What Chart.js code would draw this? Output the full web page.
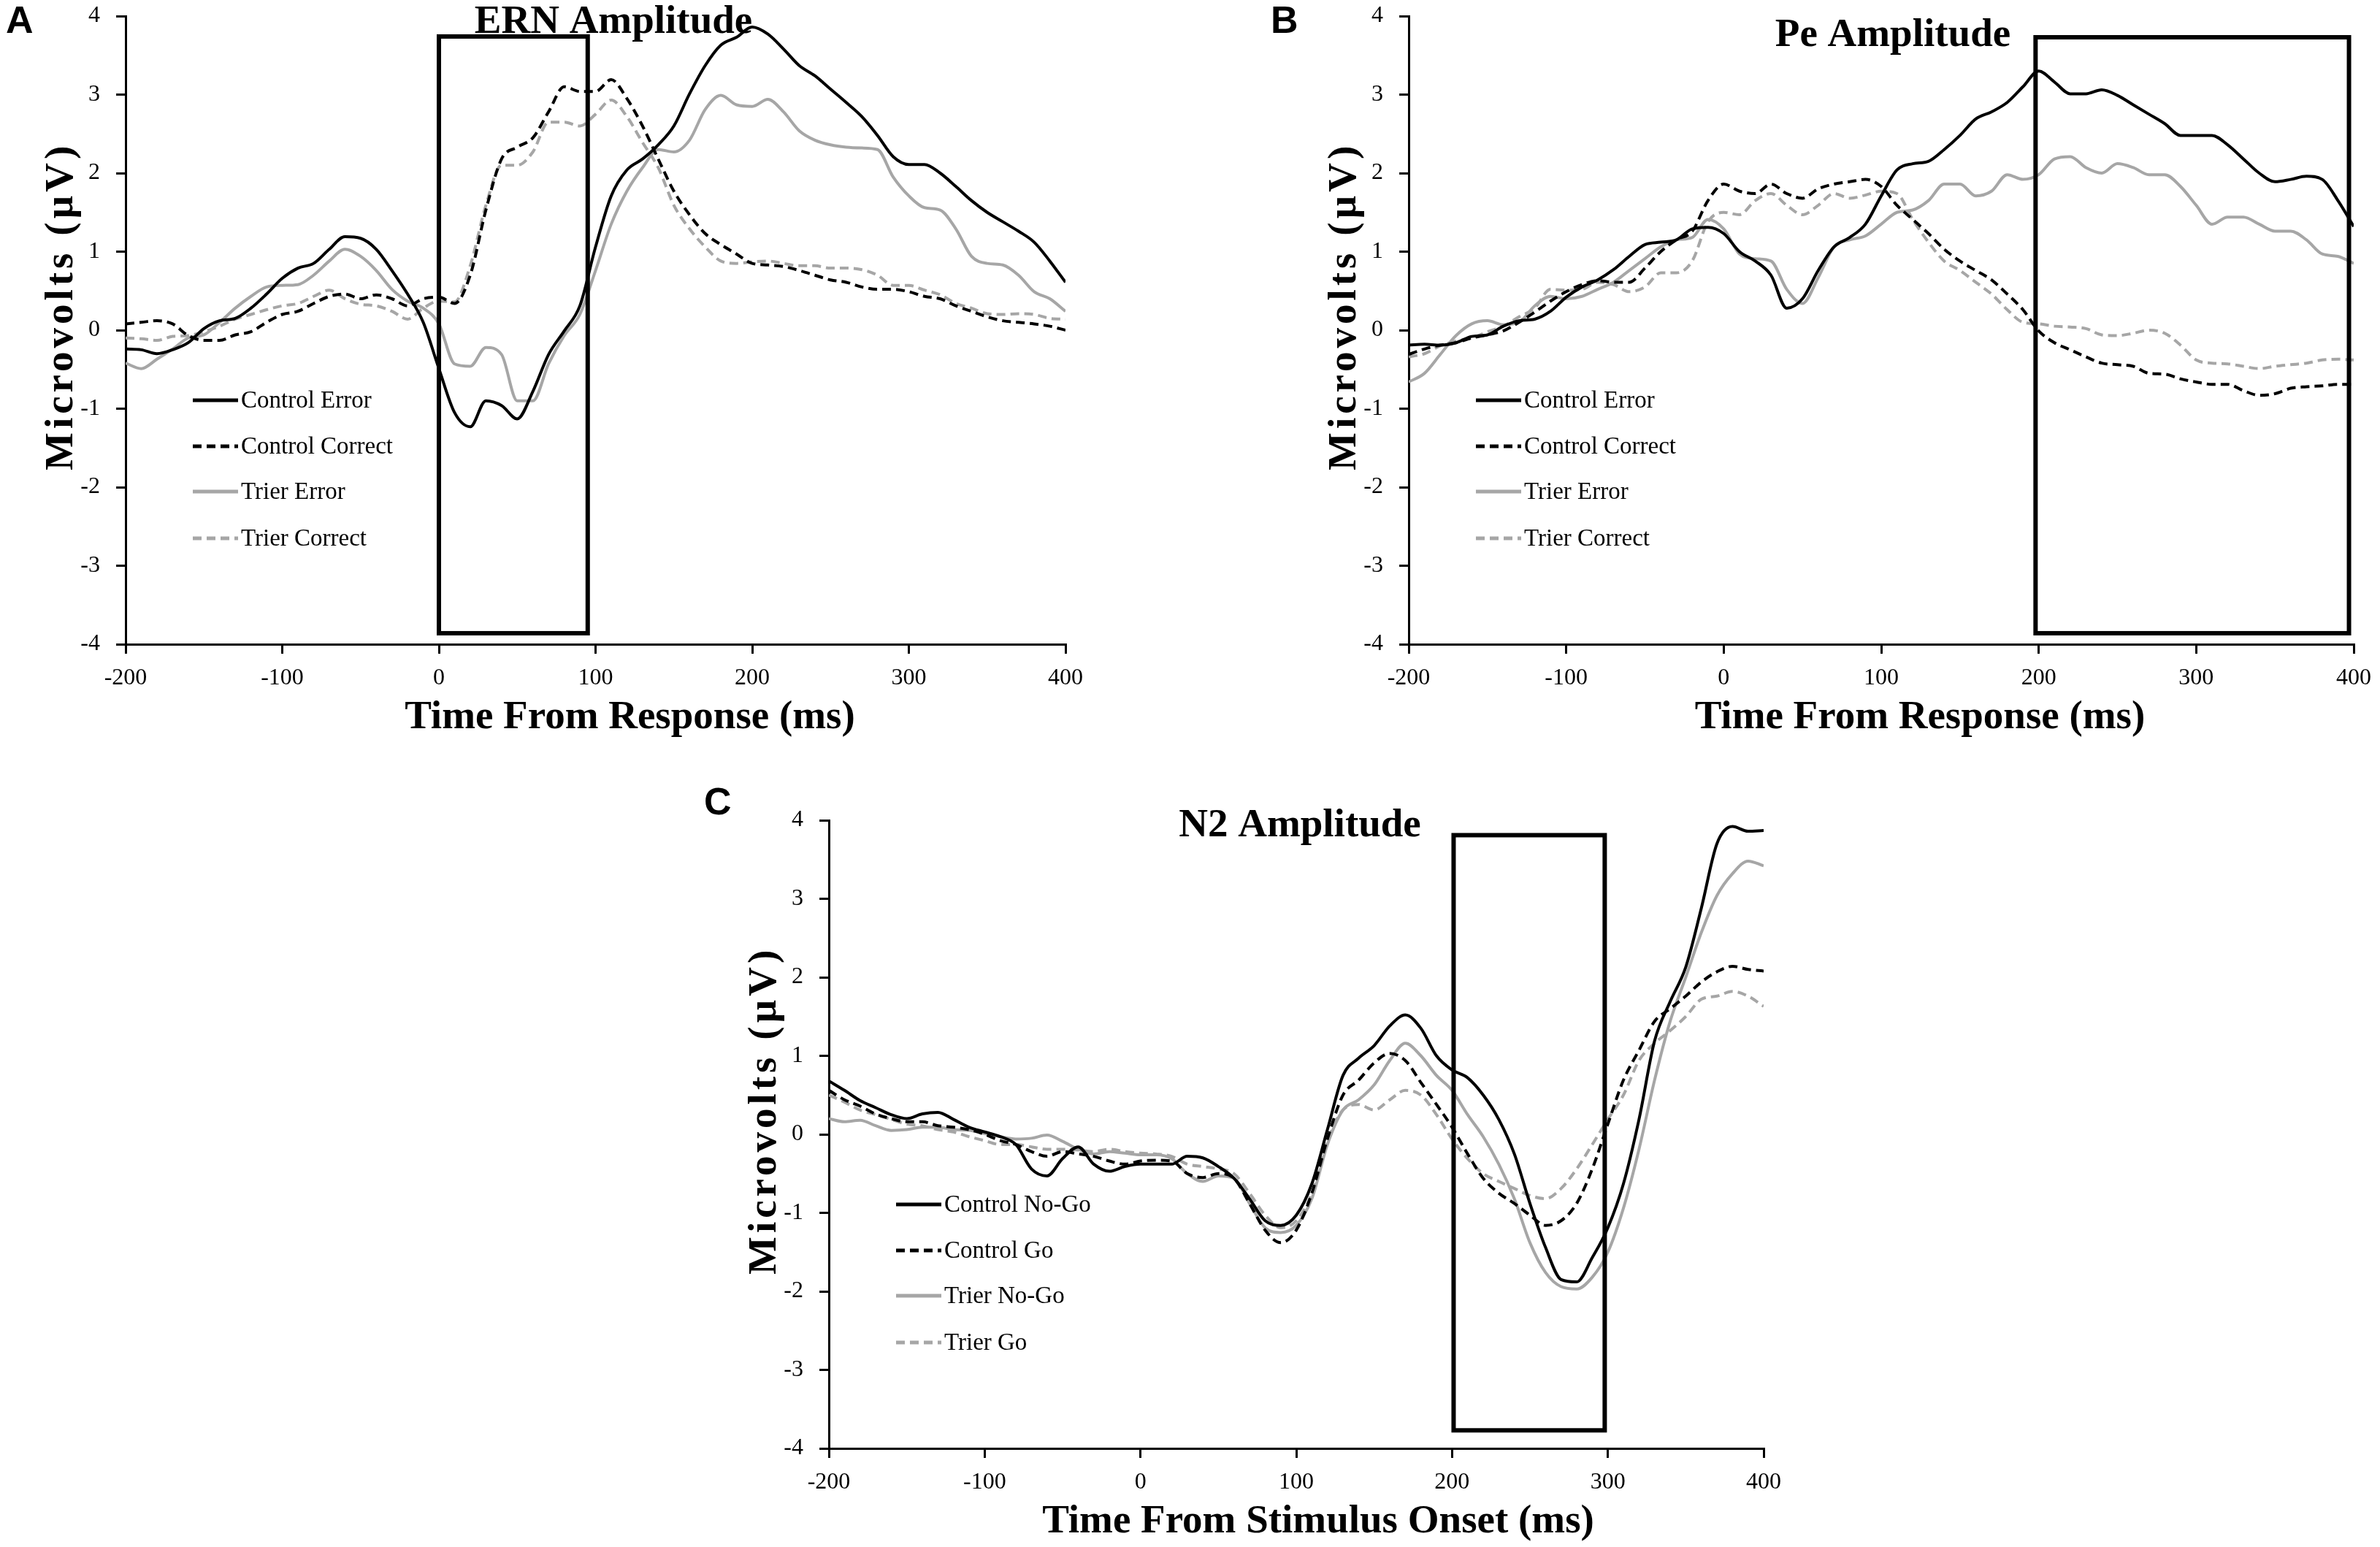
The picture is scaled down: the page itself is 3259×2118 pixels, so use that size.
<!DOCTYPE html>
<html>
<head>
<meta charset="utf-8">
<script src="https://cdn.jsdelivr.net/npm/chart.js@4.4.1/dist/chart.umd.min.js"></script>
<style>
  html, body { margin: 0; padding: 0; background: #fff; width: 3259px; height: 2118px; overflow: hidden; }
  canvas { position: absolute; }
</style>
</head>
<body>
<canvas id="chartA"></canvas>
<canvas id="chartB"></canvas>
<canvas id="chartC"></canvas>
<script>
// time axis (ms), sampled every 10 ms
const times = [
  -200, -190, -180, -170, -160, -150, -140, -130, -120, -110,
  -100, -90, -80, -70, -60, -50, -40, -30, -20, -10,
  0, 10, 20, 30, 40, 50, 60, 70, 80, 90,
  100, 110, 120, 130, 140, 150, 160, 170, 180, 190,
  200, 210, 220, 230, 240, 250, 260, 270, 280, 290,
  300, 310, 320, 330, 340, 350, 360, 370, 380, 390,
  400
];
const xTicks = [-200, -100, 0, 100, 200, 300, 400];
const yTicks = [-4, -3, -2, -1, 0, 1, 2, 3, 4];

// A: ERN
const ernLabels = ["Control Error", "Control Correct", "Trier Error", "Trier Correct"];
const ernControlError = [
  -0.24, -0.25, -0.30, -0.25, -0.16, 0.02, 0.12, 0.15, 0.28, 0.46,
  0.66, 0.79, 0.85, 1.03, 1.19, 1.17, 1.03, 0.76, 0.46, 0.10,
  -0.49, -1.05, -1.23, -0.90, -0.96, -1.13, -0.78, -0.31, -0.01, 0.31,
  1.06, 1.71, 2.04, 2.18, 2.36, 2.60, 3.01, 3.37, 3.63, 3.73,
  3.86, 3.77, 3.58, 3.37, 3.24, 3.07, 2.90, 2.72, 2.48, 2.21,
  2.11, 2.11, 2.00, 1.83, 1.65, 1.50, 1.38, 1.26, 1.12, 0.88,
  0.61
];
const ernControlCorrect = [
  0.08, 0.10, 0.12, 0.08, -0.07, -0.13, -0.13, -0.06, -0.02, 0.10,
  0.20, 0.24, 0.34, 0.43, 0.46, 0.40, 0.45, 0.40, 0.31, 0.40,
  0.42, 0.34, 0.70, 1.53, 2.18, 2.33, 2.45, 2.78, 3.10, 3.04,
  3.04, 3.19, 2.95, 2.60, 2.18, 1.77, 1.47, 1.23, 1.09, 0.97,
  0.85, 0.83, 0.81, 0.76, 0.70, 0.64, 0.61, 0.55, 0.52, 0.52,
  0.49, 0.43, 0.40, 0.31, 0.24, 0.17, 0.12, 0.10, 0.08, 0.05,
  0.00
];
const ernTrierError = [
  -0.42, -0.49, -0.37, -0.24, -0.10, -0.06, 0.10, 0.28, 0.43, 0.55,
  0.57, 0.58, 0.70, 0.88, 1.03, 0.94, 0.76, 0.52, 0.37, 0.28,
  0.08, -0.43, -0.46, -0.22, -0.31, -0.90, -0.90, -0.43, -0.07, 0.20,
  0.76, 1.35, 1.77, 2.07, 2.30, 2.27, 2.42, 2.81, 2.99, 2.87,
  2.85, 2.94, 2.78, 2.54, 2.42, 2.36, 2.33, 2.32, 2.30, 1.95,
  1.71, 1.56, 1.53, 1.29, 0.94, 0.85, 0.83, 0.70, 0.49, 0.40,
  0.24
];
const ernTrierCorrect = [
  -0.10, -0.11, -0.13, -0.08, -0.07, -0.02, 0.05, 0.14, 0.20, 0.26,
  0.31, 0.34, 0.43, 0.51, 0.40, 0.33, 0.31, 0.24, 0.14, 0.28,
  0.37, 0.36, 0.82, 1.59, 2.10, 2.10, 2.27, 2.65, 2.65, 2.60,
  2.75, 2.93, 2.72, 2.39, 2.07, 1.59, 1.29, 1.06, 0.88, 0.85,
  0.87, 0.88, 0.85, 0.82, 0.82, 0.79, 0.79, 0.77, 0.70, 0.57,
  0.57, 0.51, 0.45, 0.34, 0.28, 0.21, 0.20, 0.21, 0.20, 0.15,
  0.14
];
const ernWindow = [0, 95, -3.86, 3.74]; // ms from, ms to, µV low, µV high

// B: Pe
const peLabels = ["Control Error", "Control Correct", "Trier Error", "Trier Correct"];
const peControlError = [
  -0.19, -0.18, -0.19, -0.16, -0.08, -0.06, 0.05, 0.12, 0.14, 0.24,
  0.42, 0.55, 0.64, 0.77, 0.94, 1.09, 1.12, 1.15, 1.29, 1.31,
  1.23, 1.00, 0.88, 0.70, 0.28, 0.40, 0.76, 1.06, 1.18, 1.35,
  1.71, 2.04, 2.12, 2.15, 2.30, 2.48, 2.69, 2.78, 2.90, 3.10,
  3.30, 3.16, 3.01, 3.01, 3.06, 2.99, 2.87, 2.75, 2.63, 2.48,
  2.48, 2.48, 2.36, 2.18, 2.00, 1.89, 1.92, 1.96, 1.92, 1.65,
  1.32
];
const peControlCorrect = [
  -0.31, -0.24, -0.19, -0.16, -0.10, -0.06, -0.01, 0.10, 0.23, 0.37,
  0.49, 0.58, 0.63, 0.61, 0.61, 0.79, 1.00, 1.15, 1.26, 1.65,
  1.86, 1.77, 1.74, 1.86, 1.74, 1.68, 1.80, 1.86, 1.89, 1.92,
  1.83, 1.59, 1.41, 1.23, 1.03, 0.88, 0.76, 0.64, 0.46, 0.26,
  -0.01, -0.16, -0.25, -0.34, -0.42, -0.44, -0.46, -0.55, -0.56, -0.62,
  -0.66, -0.69, -0.69, -0.77, -0.83, -0.81, -0.74, -0.72, -0.71, -0.69,
  -0.69
];
const peTrierError = [
  -0.66, -0.55, -0.31, -0.07, 0.08, 0.12, 0.07, 0.10, 0.31, 0.43,
  0.40, 0.43, 0.52, 0.61, 0.76, 0.91, 1.06, 1.15, 1.18, 1.41,
  1.29, 0.97, 0.91, 0.88, 0.52, 0.34, 0.67, 1.06, 1.15, 1.20,
  1.35, 1.50, 1.53, 1.65, 1.86, 1.86, 1.71, 1.77, 1.98, 1.92,
  1.98, 2.18, 2.21, 2.07, 2.00, 2.12, 2.07, 1.98, 1.98, 1.83,
  1.59, 1.35, 1.44, 1.44, 1.35, 1.26, 1.26, 1.15, 0.97, 0.94,
  0.85
];
const peTrierCorrect = [
  -0.34, -0.30, -0.20, -0.14, -0.10, -0.02, 0.05, 0.17, 0.28, 0.52,
  0.51, 0.52, 0.61, 0.58, 0.49, 0.55, 0.73, 0.73, 0.88, 1.38,
  1.50, 1.47, 1.65, 1.74, 1.59, 1.47, 1.59, 1.74, 1.68, 1.72,
  1.77, 1.74, 1.41, 1.12, 0.88, 0.76, 0.61, 0.46, 0.26, 0.10,
  0.08, 0.05, 0.04, 0.02, -0.06, -0.07, -0.04, 0.00, -0.04, -0.19,
  -0.38, -0.42, -0.43, -0.46, -0.49, -0.46, -0.44, -0.42, -0.38, -0.37,
  -0.38
];
const peWindow = [198, 397, -3.86, 3.73];

// C: N2
const n2Labels = ["Control No-Go", "Control Go", "Trier No-Go", "Trier Go"];
const n2ControlNoGo = [
  0.68, 0.56, 0.43, 0.34, 0.25, 0.20, 0.26, 0.28, 0.19, 0.09,
  0.03, -0.03, -0.13, -0.44, -0.53, -0.31, -0.16, -0.38, -0.47, -0.41,
  -0.38, -0.38, -0.38, -0.28, -0.30, -0.41, -0.56, -0.82, -1.10, -1.16,
  -1.03, -0.63, 0.06, 0.75, 0.97, 1.13, 1.38, 1.52, 1.35, 1.00,
  0.82, 0.72, 0.50, 0.19, -0.25, -0.88, -1.44, -1.85, -1.88, -1.57,
  -1.19, -0.63, 0.19, 1.19, 1.69, 2.13, 2.88, 3.70, 3.92, 3.86,
  3.87
];
const n2ControlGo = [
  0.56, 0.44, 0.36, 0.26, 0.20, 0.16, 0.16, 0.11, 0.09, 0.06,
  0.00, -0.08, -0.13, -0.22, -0.28, -0.22, -0.25, -0.28, -0.34, -0.38,
  -0.34, -0.33, -0.34, -0.50, -0.55, -0.50, -0.56, -0.88, -1.22, -1.38,
  -1.22, -0.75, -0.06, 0.50, 0.69, 0.91, 1.03, 0.94, 0.66, 0.38,
  0.09, -0.25, -0.56, -0.75, -0.88, -1.03, -1.16, -1.10, -0.88, -0.44,
  0.13, 0.69, 1.07, 1.44, 1.60, 1.76, 1.94, 2.07, 2.14, 2.10,
  2.08
];
const n2TrierNoGo = [
  0.20, 0.16, 0.18, 0.11, 0.05, 0.06, 0.09, 0.09, 0.06, 0.05,
  0.01, -0.03, -0.06, -0.05, -0.01, -0.09, -0.19, -0.25, -0.22, -0.24,
  -0.26, -0.26, -0.31, -0.50, -0.60, -0.53, -0.56, -0.88, -1.19, -1.25,
  -1.16, -0.82, -0.13, 0.31, 0.44, 0.63, 0.94, 1.16, 1.00, 0.75,
  0.56, 0.25, -0.03, -0.38, -0.82, -1.38, -1.76, -1.94, -1.97, -1.82,
  -1.50, -0.94, -0.19, 0.69, 1.44, 2.00, 2.57, 3.04, 3.32, 3.48,
  3.42
];
const n2TrierGo = [
  0.50, 0.41, 0.31, 0.25, 0.19, 0.13, 0.11, 0.06, 0.03, -0.03,
  -0.08, -0.13, -0.13, -0.16, -0.19, -0.19, -0.20, -0.22, -0.19, -0.22,
  -0.24, -0.25, -0.28, -0.38, -0.41, -0.44, -0.50, -0.75, -1.03, -1.19,
  -1.10, -0.75, -0.09, 0.31, 0.38, 0.31, 0.44, 0.56, 0.50, 0.25,
  -0.06, -0.31, -0.50, -0.60, -0.69, -0.78, -0.82, -0.69, -0.44, -0.13,
  0.19, 0.50, 0.94, 1.16, 1.32, 1.50, 1.72, 1.76, 1.82, 1.76,
  1.63
];
const n2Window = [201, 298, -3.77, 3.81];

const SERIF = "'Liberation Serif', 'Times New Roman', serif";
const lineStyles = [
  { color: "#000000", dash: [] },
  { color: "#000000", dash: [12, 7] },
  { color: "#a6a6a6", dash: [] },
  { color: "#a6a6a6", dash: [12, 7] },
];
const Y_AXIS_W = 172;

// box, legend and all titles
const decor = {
  id: "decor",
  afterDatasetsDraw(chart, args, o) {
    const { ctx, chartArea: a, scales: { x, y } } = chart;
    ctx.save();
    // analysis window
    const bx0 = x.getPixelForValue(o.box[0]);
    const bx1 = x.getPixelForValue(o.box[1]);
    const by0 = y.getPixelForValue(o.box[3]);
    const by1 = y.getPixelForValue(o.box[2]);
    ctx.strokeStyle = "#000";
    ctx.lineWidth = 6;
    ctx.strokeRect(bx0, by0, bx1 - bx0, by1 - by0);

    // legend
    const rows = [526, 589, 651, 715];
    ctx.font = "33px " + SERIF;
    ctx.textBaseline = "middle";
    ctx.textAlign = "left";
    chart.data.datasets.forEach((ds, i) => {
      const ry = a.top + rows[i];
      ctx.beginPath();
      ctx.setLineDash(ds.borderDash || []);
      ctx.strokeStyle = ds.borderColor;
      ctx.lineWidth = 5;
      ctx.moveTo(a.left + 92, ry);
      ctx.lineTo(a.left + 154, ry);
      ctx.stroke();
      ctx.setLineDash([]);
      ctx.fillStyle = "#000";
      ctx.fillText(ds.label, a.left + 158, ry + 1);
    });
    ctx.restore();
  },
  afterDraw(chart, args, o) {
    const { ctx, chartArea: a } = chart;
    ctx.save();
    ctx.fillStyle = "#000";
    ctx.textBaseline = "alphabetic";

    // panel letter
    ctx.font = "bold 52px 'Liberation Sans', Arial, sans-serif";
    ctx.textAlign = "left";
    ctx.fillText(o.letter, a.left + o.letterPos[0], a.top + o.letterPos[1]);

    // chart title
    ctx.font = "bold 55px " + SERIF;
    ctx.textAlign = "center";
    ctx.fillText(o.title, a.left + o.titlePos[0], a.top + o.titlePos[1]);

    // x axis title
    ctx.font = "bold 55px " + SERIF;
    ctx.fillText(o.xTitle, (a.left + a.right) / 2 + o.xTitleShift, a.bottom + 115);

    // y axis title
    ctx.translate(a.left - 73, a.top + 622);
    ctx.rotate(-Math.PI / 2);
    ctx.textAlign = "left";
    ctx.letterSpacing = "5px";
    ctx.fillText("Microvolts (\u00b5V)", 0, 0);
    ctx.restore();
  }
};

function makeChart(id, spec) {
  const cv = document.getElementById(id);
  const c = spec.canvas, p = spec.plot;
  cv.width = c.w; cv.height = c.h;
  cv.style.left = c.x + "px"; cv.style.top = c.y + "px";
  cv.style.width = c.w + "px"; cv.style.height = c.h + "px";
  const xAxisH = c.y + c.h - p.b;

  const datasets = spec.series.map((vals, i) => ({
    label: spec.labels[i],
    data: times.map((t, k) => ({ x: t, y: vals[k] })),
    borderColor: lineStyles[i].color,
    borderDash: lineStyles[i].dash,
    borderWidth: 4,
    pointRadius: 0,
    fill: false,
    cubicInterpolationMode: "monotone",
  }));

  const axisCommon = {
    border: { display: true, color: "#000", width: 3 },
    grid: { drawOnChartArea: false, drawTicks: true, tickLength: 13, color: "#000", lineWidth: 3 },
  };

  return new Chart(cv.getContext("2d"), {
    type: "line",
    data: { datasets },
    options: {
      responsive: false,
      animation: false,
      devicePixelRatio: 1,
      layout: {
        padding: { left: p.l - Y_AXIS_W - c.x, top: p.t - c.y, right: c.x + c.w - p.r, bottom: 0 }
      },
      plugins: {
        legend: { display: false },
        tooltip: { enabled: false },
        decor: spec.decor,
      },
      scales: {
        x: {
          ...axisCommon,
          type: "linear",
          min: xTicks[0],
          max: xTicks[xTicks.length - 1],
          afterBuildTicks: (s) => { s.ticks = xTicks.map(v => ({ value: v })); },
          afterFit: (s) => { s.height = xAxisH; s.paddingLeft = 0; s.paddingRight = 0; },
          ticks: { color: "#000", padding: 14, maxRotation: 0, font: { family: SERIF, size: 32 } },
        },
        y: {
          ...axisCommon,
          type: "linear",
          min: yTicks[0],
          max: yTicks[yTicks.length - 1],
          afterBuildTicks: (s) => { s.ticks = yTicks.map(v => ({ value: v })); },
          afterFit: (s) => { s.width = Y_AXIS_W; s.paddingTop = 0; s.paddingBottom = 0; },
          ticks: { color: "#000", padding: 22, font: { family: SERIF, size: 32 } },
        },
      },
    },
    plugins: [decor],
  });
}

makeChart("chartA", {
  canvas: { x: 0, y: 0, w: 1500, h: 1015 },
  plot: { l: 172, t: 22, r: 1459, b: 882 },
  labels: ernLabels,
  series: [ernControlError, ernControlCorrect, ernTrierError, ernTrierCorrect],
  decor: {
    box: ernWindow, letter: "A", letterPos: [-164, 23],
    title: "ERN Amplitude", titlePos: [668, 23],
    xTitle: "Time From Response (ms)", xTitleShift: 47,
  },
});

makeChart("chartB", {
  canvas: { x: 1720, y: 0, w: 1539, h: 1015 },
  plot: { l: 1929, t: 22, r: 3223, b: 882 },
  labels: peLabels,
  series: [peControlError, peControlCorrect, peTrierError, peTrierCorrect],
  decor: {
    box: peWindow, letter: "B", letterPos: [-189, 23],
    title: "Pe Amplitude", titlePos: [663, 41],
    xTitle: "Time From Response (ms)", xTitleShift: 53,
  },
});

makeChart("chartC", {
  canvas: { x: 940, y: 1050, w: 1519, h: 1068 },
  plot: { l: 1135, t: 1123, r: 2415, b: 1983 },
  labels: n2Labels,
  series: [n2ControlNoGo, n2ControlGo, n2TrierNoGo, n2TrierGo],
  decor: {
    box: n2Window, letter: "C", letterPos: [-171, -8],
    title: "N2 Amplitude", titlePos: [645, 22],
    xTitle: "Time From Stimulus Onset (ms)", xTitleShift: 30,
  },
});
</script>
</body>
</html>
